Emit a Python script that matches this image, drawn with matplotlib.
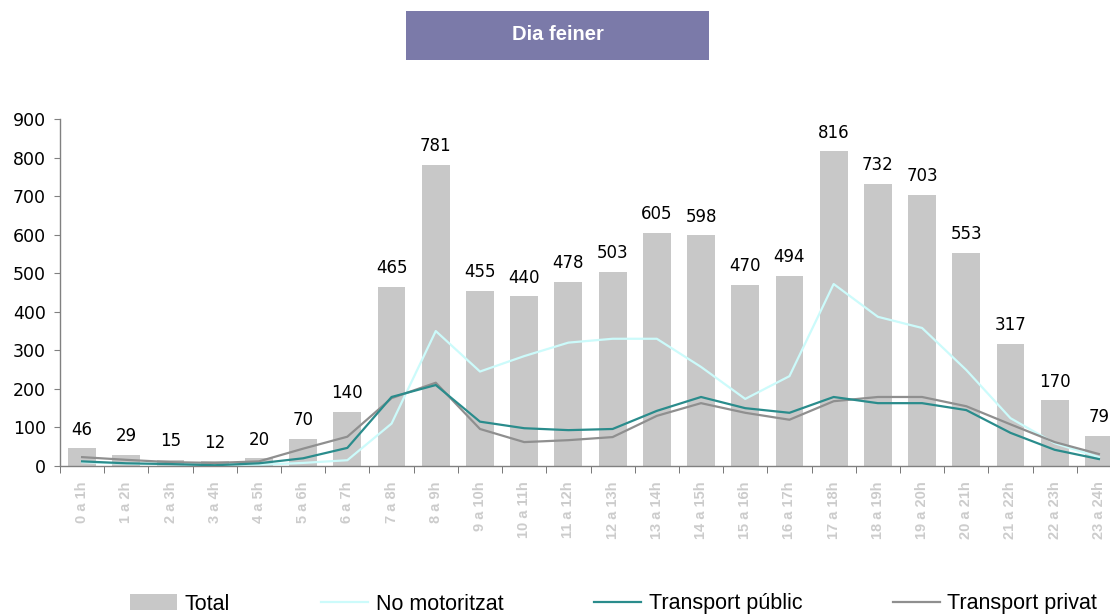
import matplotlib
matplotlib.use("Agg")
import matplotlib.pyplot as plt
from matplotlib.lines import Line2D
from matplotlib.patches import Patch, Rectangle

categories = ["0 a 1h", "1 a 2h", "2 a 3h", "3 a 4h", "4 a 5h", "5 a 6h", "6 a 7h", "7 a 8h",
              "8 a 9h", "9 a 10h", "10 a 11h", "11 a 12h", "12 a 13h", "13 a 14h", "14 a 15h",
              "15 a 16h", "16 a 17h", "17 a 18h", "18 a 19h", "19 a 20h", "20 a 21h", "21 a 22h",
              "22 a 23h", "23 a 24h"]
total = [46, 29, 15, 12, 20, 70, 140, 465, 781, 455, 440, 478, 503, 605, 598, 470, 494,
         816, 732, 703, 553, 317, 170, 79]
no_motoritzat = [10, 6, 4, 2, 3, 8, 15, 110, 350, 245, 285, 320, 330, 330, 257, 174, 233,
                 472, 387, 358, 249, 124, 59, 23]
transport_public = [12, 7, 5, 2, 7, 20, 47, 179, 210, 115, 98, 93, 96, 143, 179, 150, 138,
                    179, 163, 163, 145, 86, 42, 18]
transport_privat = [23, 16, 10, 8, 12, 45, 76, 176, 216, 96, 62, 67, 75, 130, 163, 138, 120,
                    168, 179, 179, 155, 108, 62, 31]
yticks = [0, 100, 200, 300, 400, 500, 600, 700, 800, 900]
title = "Dia feiner"
legend_labels = ["Total", "No motoritzat", "Transport públic", "Transport privat"]

bar_color = "#c8c8c8"
c_nomot = "#ccfbfb"
c_pub = "#2a8c8c"
c_priv = "#8f8f8f"

fig = plt.figure(figsize=(11.10, 6.14), dpi=100)
W, H = 1110, 614
ax = fig.add_axes([60 / W, 1 - 466 / H, 1061 / W, 347 / H])

x = list(range(len(categories)))
ax.bar(x, total, width=0.63, color=bar_color, zorder=1)
ax.plot(x, no_motoritzat, color=c_nomot, lw=1.6, zorder=2)
ax.plot(x, transport_privat, color=c_priv, lw=1.6, zorder=3)
ax.plot(x, transport_public, color=c_pub, lw=1.6, zorder=4)

for xi, v in zip(x, total):
    ax.annotate(str(v), (xi, v), xytext=(0, 7), textcoords="offset points",
                ha="center", va="bottom", fontsize=12, family="DejaVu Sans", color="black")

ax.set_xlim(-0.5, len(categories) - 0.5)
ax.set_ylim(0, 900)
ax.set_yticks(yticks)
ax.set_yticklabels([str(t) for t in yticks], fontsize=12.5, family="DejaVu Sans")
ax.set_xticks(x)
ax.set_xticklabels(categories, rotation=90, fontsize=10.5, color="#cccccc",
                   family="Liberation Sans", fontweight="bold")
ax.tick_params(axis="x", length=0, pad=11)
ax.set_xticks([i + 0.5 for i in x[:-1]] + [-0.5], minor=True)
ax.tick_params(axis="x", which="minor", length=5, color="#606060", direction="out")
ax.tick_params(axis="y", length=4, color="#808080", direction="out", pad=6)
for s in ["top", "right"]:
    ax.spines[s].set_visible(False)
for s in ["left", "bottom"]:
    ax.spines[s].set_color("#808080")
    ax.spines[s].set_linewidth(1.0)

# title box
fig.patches.append(Rectangle((406 / W, 1 - 60 / H), 303 / W, 49 / H, transform=fig.transFigure,
                             facecolor="#7b7aa9", edgecolor="none"))
fig.text(557.5 / W, 1 - 35 / H, title, ha="center", va="center", color="white",
         fontsize=14.5, fontweight="bold", family="Liberation Sans")

handles = [Patch(facecolor=bar_color, edgecolor="none"),
           Line2D([], [], color=c_nomot, lw=1.6),
           Line2D([], [], color=c_pub, lw=1.6),
           Line2D([], [], color=c_priv, lw=1.6)]
fig.legend(handles, legend_labels, loc="center left", bbox_to_anchor=(130 / W, 1 - 604 / H),
           ncol=4, frameon=False, prop={"family": "Liberation Sans", "size": 15.5},
           handlelength=2.2, handleheight=0.7, handletextpad=0.35, columnspacing=4.2,
           borderaxespad=0, borderpad=0)

fig.savefig("out.png", dpi=100)
